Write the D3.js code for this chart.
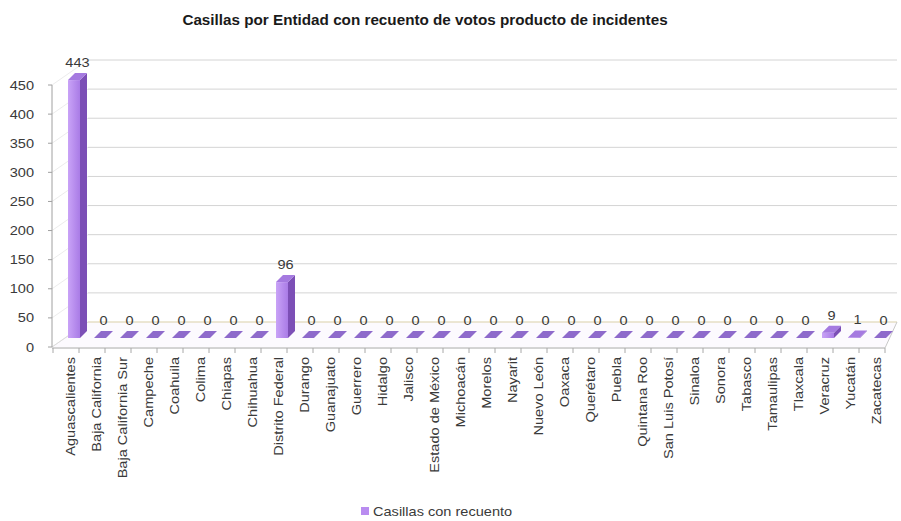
<!DOCTYPE html>
<html><head><meta charset="utf-8">
<script src="https://cdn.jsdelivr.net/npm/d3@7"></script>
<style>html,body{margin:0;padding:0;background:#fff;}svg{display:block;font-family:"Liberation Sans",Arial,sans-serif;}</style>
</head><body><svg id="c" width="901" height="521"></svg>
<script>
const categories = ["Aguascalientes","Baja California","Baja California Sur","Campeche","Coahuila","Colima","Chiapas","Chihuahua","Distrito Federal","Durango","Guanajuato","Guerrero","Hidalgo","Jalisco","Estado de México","Michoacán","Morelos","Nayarit","Nuevo León","Oaxaca","Querétaro","Puebla","Quintana Roo","San Luis Potosí","Sinaloa","Sonora","Tabasco","Tamaulipas","Tlaxcala","Veracruz","Yucatán","Zacatecas"];
const values = [443,0,0,0,0,0,0,0,96,0,0,0,0,0,0,0,0,0,0,0,0,0,0,0,0,0,0,0,0,9,1,0];
const yTicks = [0,50,100,150,200,250,300,350,400,450];
const seriesName = "Casillas con recuento";
const title = "Casillas por Entidad con recuento de votos producto de incidentes";

const svg = d3.select("#c");
const x = d3.scaleBand().domain(categories).range([53, 885]).padding(0);
const yAxis = d3.scaleLinear().domain([0, 450]).range([347, 85]);
const yWall = d3.scaleLinear().domain([0, 450]).range([322, 60]);
const yBar = d3.scaleLinear().domain([0, 450]).range([338, 76]);
const DX = 7, DY = -7, HW = 6;
const SX = 1.12;

// floor
svg.append("path").attr("d", `M52,347 L885,347 L897,322 L88,322 Z`).attr("fill", "#fcfafe").attr("stroke", "none");

// side wall diagonals
svg.append("g").selectAll("line").data(yTicks).join("line")
  .attr("x1", 52).attr("x2", 88).attr("y1", d => yAxis(d)).attr("y2", d => yWall(d))
  .attr("stroke", "#ececec").attr("stroke-width", 1);

// back wall gridlines
svg.append("g").selectAll("line").data(yTicks).join("line")
  .attr("x1", 88).attr("x2", 897).attr("y1", d => yWall(d)).attr("y2", d => yWall(d))
  .attr("stroke", d => d === 0 ? "#d9cfa8" : "#d4d4d4").attr("stroke-width", 1);

// floor edges
svg.append("line").attr("x1", 52).attr("x2", 885).attr("y1", 348).attr("y2", 348).attr("stroke", "#a8a8a8");
svg.append("line").attr("x1", 885).attr("x2", 897).attr("y1", 348).attr("y2", 322).attr("stroke", "#c8c8c8");
svg.append("line").attr("x1", 52).attr("x2", 88).attr("y1", 347).attr("y2", 322).attr("stroke", "#dcdcdc");

// x ticks
const bounds = categories.map(c => x(c)).concat([885]);
svg.append("g").selectAll("line").data(bounds).join("line")
  .attr("x1", d => d).attr("x2", d => d).attr("y1", 348).attr("y2", 353).attr("stroke", "#a8a8a8");

// y axis
svg.append("line").attr("x1", 52).attr("x2", 52).attr("y1", yAxis(0)).attr("y2", yAxis(450)).attr("stroke", "#a0a0a0");
svg.append("g").selectAll("line").data(yTicks).join("line")
  .attr("x1", 48).attr("x2", 52).attr("y1", d => yAxis(d)).attr("y2", d => yAxis(d)).attr("stroke", "#a0a0a0");
svg.append("g").selectAll("text").data(yTicks).join("text")
  .attr("transform", d => `translate(34,${yAxis(d)}) scale(${SX},1)`).attr("dy", "0.35em").attr("text-anchor", "end")
  .attr("font-size", "13px").attr("fill", "#3a3a3a").text(d => d);

// gradient
const defs = svg.append("defs");
const g1 = defs.append("linearGradient").attr("id", "gf").attr("x1", 0).attr("x2", 1).attr("y1", 0).attr("y2", 0);
g1.append("stop").attr("offset", 0).attr("stop-color", "#c9a3f7");
g1.append("stop").attr("offset", 1).attr("stop-color", "#a97be6");

// bars
const data = categories.map((c, i) => ({c, v: values[i]}));
const bars = svg.append("g").selectAll("g").data(data).join("g");
bars.each(function(d) {
  const g = d3.select(this);
  const cx = x(d.c) + x.bandwidth() / 2 + 8;
  const yt = yBar(d.v), yb = yBar(0);
  if (d.v > 0) {
    g.append("rect").attr("x", cx - HW).attr("y", yt).attr("width", 2 * HW).attr("height", yb - yt).attr("fill", "url(#gf)");
    g.append("path").attr("d", `M${cx+HW},${yt} L${cx+HW+DX},${yt+DY} L${cx+HW+DX},${yb+DY} L${cx+HW},${yb} Z`).attr("fill", "#7c4fb6");
  }
  g.append("path").attr("d", `M${cx-HW},${yt} L${cx+HW},${yt} L${cx+HW+DX},${yt+DY} L${cx-HW+DX},${yt+DY} Z`)
    .attr("fill", d.v > 0 ? "#a57ae0" : "#8e6acb");
  g.append("text").attr("transform", `translate(${cx + DX / 2},${yt + DY - 6}) scale(${SX},1)`).attr("text-anchor", "middle")
    .attr("font-size", "13px").attr("fill", "#3a3a3a").text(d.v);
});

// x labels
svg.append("g").selectAll("text").data(categories).join("text")
  .attr("transform", d => `translate(${x(d) + x.bandwidth() / 2 + 4},357) rotate(-90) scale(${SX},1)`)
  .attr("text-anchor", "end").attr("dy", "0.35em")
  .attr("font-size", "13px").attr("fill", "#3a3a3a").text(d => d);

// title
svg.append("text").attr("transform", `translate(425,25) scale(1.09,1)`).attr("text-anchor", "middle")
  .attr("font-size", "14px").attr("font-weight", "bold").attr("fill", "#1a1a1a").text(title);

// legend
svg.append("rect").attr("x", 361).attr("y", 507).attr("width", 8).attr("height", 8).attr("fill", "#b98cf0");
svg.append("text").attr("transform", `translate(373,511) scale(${SX},1)`).attr("dy", "0.35em").attr("font-size", "13px").attr("fill", "#3a3a3a").text(seriesName);
</script>
</body></html>
